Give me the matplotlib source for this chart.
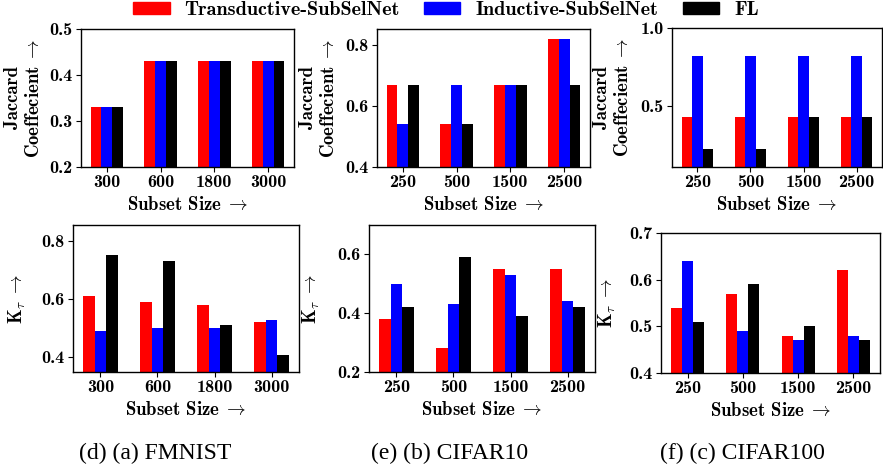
"""Jaccard coefficient and Kendall tau bars for SubSelNet vs FL."""

import matplotlib
matplotlib.use("Agg")
import matplotlib.pyplot as plt
import numpy as np
from matplotlib.patches import Patch

plt.rcParams["font.family"] = ["cmb10"]
plt.rcParams["mathtext.fontset"] = "cm"
plt.rcParams["axes.unicode_minus"] = False

METHODS = ["Transductive-SubSelNet", "Inductive-SubSelNet", "FL"]
COLORS = ["#ff0000", "#0000ff", "#000000"]

sizes_fmnist = ["300", "600", "1800", "3000"]
sizes_cifar = ["250", "500", "1500", "2500"]

# Jaccard coefficient (top row)
jac_fmnist = {"trans": [0.33, 0.43, 0.43, 0.43],
              "ind": [0.33, 0.43, 0.43, 0.43],
              "fl": [0.33, 0.43, 0.43, 0.43]}
jac_cifar10 = {"trans": [0.67, 0.54, 0.67, 0.82],
               "ind": [0.54, 0.67, 0.67, 0.82],
               "fl": [0.67, 0.54, 0.67, 0.67]}
jac_cifar100 = {"trans": [0.43, 0.43, 0.43, 0.43],
                "ind": [0.82, 0.82, 0.82, 0.82],
                "fl": [0.22, 0.22, 0.43, 0.43]}

# Kendall tau (bottom row)
kt_fmnist = {"trans": [0.61, 0.59, 0.58, 0.52],
             "ind": [0.49, 0.50, 0.50, 0.53],
             "fl": [0.75, 0.73, 0.51, 0.41]}
kt_cifar10 = {"trans": [0.38, 0.28, 0.55, 0.55],
              "ind": [0.50, 0.43, 0.53, 0.44],
              "fl": [0.42, 0.59, 0.39, 0.42]}
kt_cifar100 = {"trans": [0.54, 0.57, 0.48, 0.62],
               "ind": [0.64, 0.49, 0.47, 0.48],
               "fl": [0.51, 0.59, 0.50, 0.47]}

W, H = 883, 470
TICK_FS = 13
LABEL_FS = 13.5


def px_axes(fig, left, right, top, bottom):
    return fig.add_axes([left / W, 1 - bottom / H, (right - left) / W, (bottom - top) / H])


def draw(ax, labels, data, ylim, yticks, ylabel, label_x):
    x = np.arange(len(labels))
    width = 0.2
    for i, key in enumerate(["trans", "ind", "fl"]):
        ax.bar(x + (i - 1) * width, data[key], width, color=COLORS[i])
    ax.set_xticks(x)
    ax.set_xticklabels(labels)
    ax.set_ylim(*ylim)
    ax.set_yticks(yticks)
    ax.set_yticklabels([f"{t:.1f}" for t in yticks])
    ax.tick_params(labelsize=TICK_FS, length=3.5, width=0.8, pad=2.5)
    ax.set_xlabel(r"Subset Size$\;\rightarrow$", fontsize=LABEL_FS, labelpad=4)
    ax.set_ylabel(ylabel, fontsize=LABEL_FS)
    ax.yaxis.set_label_coords(label_x, 0.5)
    for s in ax.spines.values():
        s.set_linewidth(1.0)


fig = plt.figure(figsize=(W / 100, H / 100), dpi=100)

jac_label = "Jaccard\n" + r"Coeffecient$\;\rightarrow$"
kt_label = r"K$_\tau\;\rightarrow$"

ax = px_axes(fig, 81, 294, 29, 167)
draw(ax, sizes_fmnist, jac_fmnist, (0.2, 0.5), [0.2, 0.3, 0.4, 0.5], jac_label, -0.178)
ax = px_axes(fig, 377, 590, 29, 167)
draw(ax, sizes_cifar, jac_cifar10, (0.4, 0.853), [0.4, 0.6, 0.8], jac_label, -0.183)
ax = px_axes(fig, 672, 882, 28, 167)
draw(ax, sizes_cifar, jac_cifar100, (0.106, 1.0), [0.5, 1.0], jac_label, -0.19)

ax = px_axes(fig, 73, 299, 225, 372)
draw(ax, sizes_fmnist, kt_fmnist, (0.35, 0.854), [0.4, 0.6, 0.8], kt_label, -0.199)
ax = px_axes(fig, 369, 595, 225, 372)
draw(ax, sizes_cifar, kt_cifar10, (0.2, 0.7), [0.2, 0.4, 0.6], kt_label, -0.208)
ax = px_axes(fig, 661, 880, 233, 373)
draw(ax, sizes_cifar, kt_cifar100, (0.4, 0.7), [0.4, 0.5, 0.6, 0.7], kt_label, -0.196)

handles = [Patch(color=c) for c in COLORS]
fig.legend(handles, METHODS, loc="center", bbox_to_anchor=(446 / W, 1 - 10 / H),
           ncol=3, frameon=False, fontsize=14.5, handlelength=1.8, handleheight=0.6,
           handletextpad=0.75, columnspacing=1.2, borderpad=0, borderaxespad=0)

captions = ["(d) (a) FMNIST", "(e) (b) CIFAR10", "(f) (c) CIFAR100"]
cap_x = [155, 450, 742]
for cx, text in zip(cap_x, captions):
    fig.text(cx / W, 1 - 453 / H, text, ha="center", va="center",
             fontsize=17, family="Liberation Serif")

fig.savefig("out.png", dpi=100)
plt.close(fig)
